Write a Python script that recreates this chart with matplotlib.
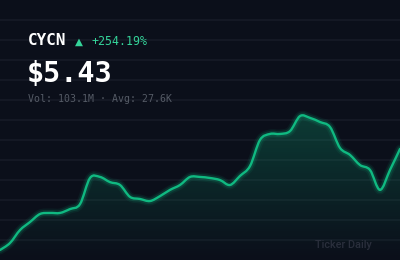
import numpy as np
import matplotlib
matplotlib.use("Agg")
import matplotlib.pyplot as plt
from matplotlib.path import Path
from matplotlib.patches import PathPatch

# Daily closes
prices = [1.53, 1.80, 2.30, 2.61, 2.92, 2.96, 2.96, 3.11, 3.30, 4.31,
          4.35, 4.15, 4.04, 3.58, 3.50, 3.42, 3.61, 3.85, 4.04, 4.35,
          4.35, 4.31, 4.23, 4.04, 4.39, 4.77, 5.78, 6.01, 6.01, 6.12,
          6.70, 6.63, 6.47, 6.28, 5.47, 5.20, 4.81, 4.62, 3.85, 4.62,
          5.43]
ticker = "CYCN"
change = "+254.19%"
last = "$5.43"
vol_text = "Vol: 103.1M · Avg: 27.6K"
brand = "Ticker Daily"

BG = "#0b0f1a"
GRID = "#161b27"
GREEN = "#10b981"

W, H = 400, 260
fig = plt.figure(figsize=(W / 100, H / 100), dpi=100, facecolor=BG)

# background grid in pixel space
bg = fig.add_axes([0, 0, 1, 1], zorder=0)
bg.set_facecolor(BG)
bg.set_xlim(0, W)
bg.set_ylim(H, 0)
bg.hlines(np.arange(20, H, 20), 0, W, color=GRID, lw=1.2)
bg.axis("off")

ax = fig.add_axes([0, 0, 1, 1], zorder=1)
ax.patch.set_alpha(0)
x = np.arange(len(prices))
y = np.array(prices)
ax.set_xlim(0, len(prices) - 1)
# 1 px ~ 0.0386 price units, first point sits ~10px above bottom
ax.set_ylim(1.53 - 10 * 0.0386, 1.53 + 250 * 0.0386)
ax.axis("off")

# smooth curve: catmull-rom -> cubic bezier
pts = np.column_stack([x, y])
verts = [pts[0]]
codes = [Path.MOVETO]
for i in range(len(pts) - 1):
    p0 = pts[max(i - 1, 0)]
    p1 = pts[i]
    p2 = pts[i + 1]
    p3 = pts[min(i + 2, len(pts) - 1)]
    c1 = p1 + (p2 - p0) / 6
    c2 = p2 - (p3 - p1) / 6
    verts += [c1, c2, p2]
    codes += [Path.CURVE4] * 3
line_path = Path(verts, codes)

# gradient fill under the curve
ymin, ymax = ax.get_ylim()
area = Path(verts + [[x[-1], ymin], [x[0], ymin], pts[0]],
            codes + [Path.LINETO, Path.LINETO, Path.CLOSEPOLY])
grad = np.zeros((100, 1, 4))
grad[..., :3] = matplotlib.colors.to_rgb(GREEN)
grad[:, 0, 3] = np.linspace(0.26, 0.0, 100)
img = ax.imshow(grad, extent=[x[0], x[-1], ymin, y.max()], aspect="auto",
                origin="upper", zorder=2)
clip = PathPatch(area, transform=ax.transData, facecolor="none", edgecolor="none")
ax.add_patch(clip)
img.set_clip_path(clip)

# glow + line
for lw, a in [(6.5, 0.08), (4.2, 0.16)]:
    ax.add_patch(PathPatch(line_path, facecolor="none", edgecolor=GREEN,
                           lw=lw, alpha=a, zorder=3, capstyle="round"))
ax.add_patch(PathPatch(line_path, facecolor="none", edgecolor=GREEN,
                       lw=1.7, zorder=4, capstyle="round", joinstyle="round"))


def px(xp, yp):
    return xp / W, 1 - yp / H


mono = "DejaVu Sans Mono"
fig.text(*px(28, 45), ticker, color="white", fontsize=11.5, fontweight="bold",
         family=mono, va="baseline")
fig.text(*px(74.5, 45), "▲", color="#34d399", fontsize=7.5, va="baseline")
fig.text(*px(91, 45), change, color="#34d399", fontsize=8.4, family=mono,
         va="baseline")
fig.text(*px(27, 82), last, color="white", fontsize=20.5, fontweight="bold",
         family=mono, va="baseline")
fig.text(*px(28, 102), vol_text, color="#555b66", fontsize=7.1, family=mono,
         va="baseline")
fig.text(*px(315, 248), brand, color="#2a2f3c", fontsize=7.8, family="Roboto",
         fontweight="medium", va="baseline")

fig.savefig("out.png", dpi=100, facecolor=BG)
